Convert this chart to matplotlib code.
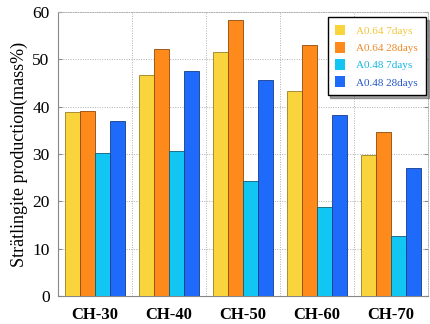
import matplotlib
matplotlib.use("Agg")
import matplotlib.pyplot as plt
import numpy as np

categories = ["CH-30", "CH-40", "CH-50", "CH-60", "CH-70"]
series_names = ["A0.64 7days", "A0.64 28days", "A0.48 7days", "A0.48 28days"]
a064_7 = [38.9, 46.6, 51.6, 43.4, 29.8]
a064_28 = [39.0, 52.2, 58.4, 53.0, 34.6]
a048_7 = [30.3, 30.6, 24.2, 18.7, 12.7]
a048_28 = [37.0, 47.6, 45.7, 38.2, 27.1]
yticks = [0, 10, 20, 30, 40, 50, 60]

colors = ["#F9D43C", "#FF8A1C", "#12C6F3", "#1E6BFB"]
edges = ["#9A7F20", "#8F4A0A", "#0B5E78", "#153C8C"]
text_colors = ["#F2C63A", "#EE8A2A", "#16B6E0", "#2458C8"]

plt.rcParams['font.family'] = ['Liberation Serif', 'DejaVu Serif']

fig = plt.figure(figsize=(4.31, 3.24), dpi=100)
ax = fig.add_axes([58/431, 1-296/324, (428-58)/431, (296-12)/324])

x = np.arange(len(categories))
w = 0.2
data = [a064_7, a064_28, a048_7, a048_28]
for i, vals in enumerate(data):
    ax.bar(x + (i-1.5)*w, vals, w, color=colors[i], edgecolor=edges[i],
           linewidth=0.6, label=series_names[i], zorder=3)

ax.set_xlim(-0.5, len(categories)-0.5)
ax.set_ylim(0, 60)
ax.set_yticks(yticks)
ax.set_yticklabels([str(t) for t in yticks], fontsize=12.5)
ax.set_xticks(x)
ax.set_xticklabels(categories, fontsize=12, fontweight='bold')
ax.tick_params(axis='x', length=0, pad=8)
ax.tick_params(axis='y', direction='in', length=3, color='#888888', right=True, pad=6)
ax.set_ylabel("Strätlingite production(mass%)", fontsize=13, labelpad=3)

for yv in yticks[1:]:
    ax.axhline(yv, color='#B0B0B0', linestyle=(0, (1, 1.5)), linewidth=0.7, zorder=1)
for xv in np.arange(0.5, len(categories), 1.0):
    ax.axvline(xv, color='#B0B0B0', linestyle=(0, (1, 1.5)), linewidth=0.7, zorder=1)

for s in ['left', 'bottom']:
    ax.spines[s].set_color('#888888')
    ax.spines[s].set_linewidth(0.8)
for s in ['top', 'right']:
    ax.spines[s].set_color('#B0B0B0')
    ax.spines[s].set_linestyle((0, (1, 1.5)))
    ax.spines[s].set_linewidth(0.7)

leg = ax.legend(loc='upper right', fontsize=8, frameon=True, fancybox=False,
                shadow=True, handlelength=0.9, handleheight=1.1,
                borderpad=0.7, labelspacing=0.55, handletextpad=1.0,
                borderaxespad=0.0,
                bbox_to_anchor=(1.0 - 2/370, 1 - 5/284))
leg.get_frame().set_edgecolor('black')
leg.get_frame().set_linewidth(1.0)
for t, c in zip(leg.get_texts(), text_colors):
    t.set_color(c)
for h in leg.legend_handles:
    h.set_edgecolor('none')

fig.savefig("out.png", dpi=100)
